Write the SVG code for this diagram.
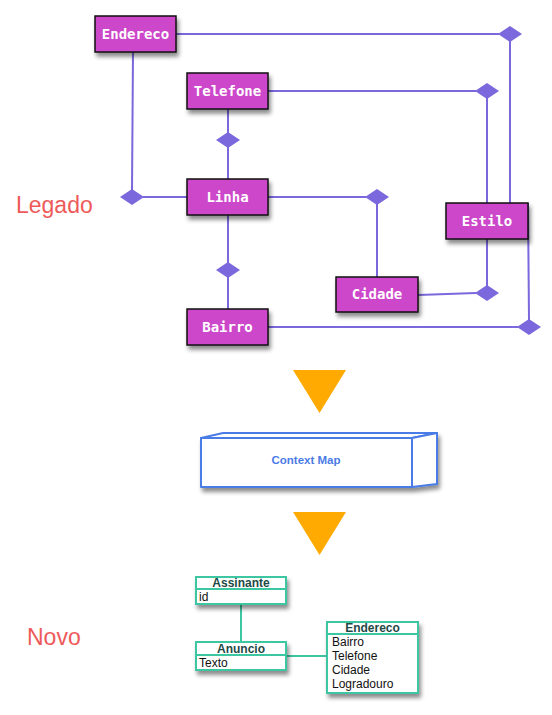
<svg xmlns="http://www.w3.org/2000/svg" xmlns:xlink="http://www.w3.org/1999/xlink" width="552" height="715" viewBox="0 0 552 715">
<style>
.ent rect{fill:#CC47C9;stroke:#111;stroke-width:1.5}
.ent text{font-family:"DejaVu Sans Mono","Liberation Mono",monospace;font-size:14px;font-weight:bold;fill:#fff;text-anchor:middle}
.conn line{stroke:#7A68DC;stroke-width:2}
.dia{fill:#7A68DC}
.lbl{font-family:"Liberation Sans",Arial,sans-serif;font-size:23px;fill:#EE5A5A}
.uml rect,.uml line{fill:#fff;stroke:#3CC6A2;stroke-width:2}
.uml .h{font-family:"Liberation Sans",Arial,sans-serif;font-size:12px;font-weight:bold;fill:#1F4A46;text-anchor:middle}
.uml .f{font-family:"Liberation Sans",Arial,sans-serif;font-size:12px;fill:#111}
.uconn line{stroke:#3CC6A2;stroke-width:2}
.tri{fill:#FFAA00}
</style>
<defs>
<filter id="sh" x="-20%" y="-20%" width="150%" height="170%">
<feDropShadow dx="2" dy="4" stdDeviation="2" flood-color="#000" flood-opacity="0.45"/>
</filter>
<polygon id="dm" points="-12,0 0,-8 12,0 0,8"/>
</defs>
<rect width="552" height="715" fill="#fff"/>

<g id="connectors" class="conn">
<line x1="176" y1="34" x2="499" y2="34"/>
<line x1="510" y1="40" x2="510" y2="203"/>
<line x1="268" y1="91" x2="476" y2="91"/>
<line x1="487" y1="97" x2="487" y2="203"/>
<line x1="133" y1="52" x2="132" y2="190"/>
<line x1="143" y1="197" x2="187" y2="197"/>
<line x1="228" y1="109" x2="228" y2="133"/>
<line x1="228" y1="147" x2="228" y2="179"/>
<line x1="268" y1="197" x2="366" y2="197"/>
<line x1="377" y1="203" x2="377" y2="277"/>
<line x1="487" y1="239" x2="487" y2="286"/>
<line x1="418" y1="295" x2="476" y2="293"/>
<line x1="228" y1="215" x2="228" y2="263"/>
<line x1="228" y1="277" x2="228" y2="309"/>
<line x1="528" y1="203" x2="529" y2="320"/>
<line x1="268" y1="327" x2="518" y2="327"/>
<use xlink:href="#dm" class="dia" x="510" y="34"/>
<use xlink:href="#dm" class="dia" x="487" y="91"/>
<use xlink:href="#dm" class="dia" x="132" y="197"/>
<use xlink:href="#dm" class="dia" x="228" y="140"/>
<use xlink:href="#dm" class="dia" x="377" y="197"/>
<use xlink:href="#dm" class="dia" x="487" y="293"/>
<use xlink:href="#dm" class="dia" x="228" y="270"/>
<use xlink:href="#dm" class="dia" x="529" y="327"/>
</g>

<g id="n-endereco" class="ent"><rect x="95" y="16" width="81" height="36" filter="url(#sh)"/><text x="135.5" y="39">Endereco</text></g>
<g id="n-telefone" class="ent"><rect x="187" y="73" width="81" height="36" filter="url(#sh)"/><text x="227.5" y="96">Telefone</text></g>
<g id="n-linha" class="ent"><rect x="187" y="179" width="81" height="36" filter="url(#sh)"/><text x="227.5" y="202">Linha</text></g>
<g id="n-bairro" class="ent"><rect x="187" y="309" width="81" height="36" filter="url(#sh)"/><text x="227.5" y="332">Bairro</text></g>
<g id="n-cidade" class="ent"><rect x="336" y="277" width="82" height="35" filter="url(#sh)"/><text x="377" y="299">Cidade</text></g>
<g id="n-estilo" class="ent"><rect x="446" y="203" width="82" height="36" filter="url(#sh)"/><text x="487" y="226">Estilo</text></g>

<text class="lbl" x="16" y="213">Legado</text>
<text class="lbl" x="27" y="645">Novo</text>

<polygon class="tri" points="293,370 346,370 319.5,413"/>

<g id="n-contextmap">
<g filter="url(#sh)" fill="#fff" stroke="#4A7BE6" stroke-width="2" stroke-linejoin="round">
<rect x="201" y="438" width="211" height="49"/>
<polygon points="201,438 223,433 437,433 412,438"/>
<polygon points="412,438 437,433 437,484 412,487"/>
</g>
<text x="306" y="464" font-family="'Liberation Sans',Arial,sans-serif" font-size="11.5" font-weight="bold" fill="#4A7BE6" text-anchor="middle">Context Map</text>
</g>

<polygon class="tri" points="293,512 346,512 319.5,555"/>

<g id="u-connectors" class="uconn">
<line x1="241" y1="604" x2="241" y2="642"/>
<line x1="286" y1="656" x2="327" y2="656"/>
</g>

<g id="u-assinante" class="uml">
<rect x="196" y="577" width="90" height="27" filter="url(#sh)"/>
<line x1="196" y1="589" x2="286" y2="589"/>
<text class="h" x="241" y="587">Assinante</text>
<text class="f" x="199" y="601">id</text>
</g>
<g id="u-anuncio" class="uml">
<rect x="196" y="642" width="90" height="28" filter="url(#sh)"/>
<line x1="196" y1="655" x2="286" y2="655"/>
<text class="h" x="241" y="653">Anuncio</text>
<text class="f" x="199" y="667">Texto</text>
</g>
<g id="u-endereco" class="uml">
<rect x="327" y="622" width="91" height="71" filter="url(#sh)"/>
<line x1="327" y1="634" x2="418" y2="634"/>
<text class="h" x="372.5" y="632">Endereco</text>
<text class="f" x="332" y="646">Bairro</text>
<text class="f" x="332" y="660">Telefone</text>
<text class="f" x="332" y="674">Cidade</text>
<text class="f" x="332" y="688">Logradouro</text>
</g>
</svg>
